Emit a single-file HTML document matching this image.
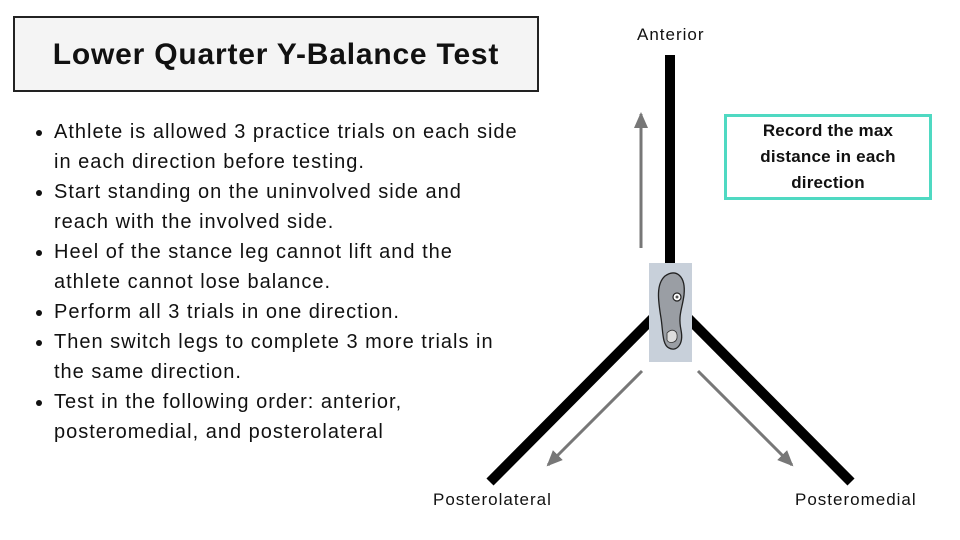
<!DOCTYPE html>
<html><head><meta charset="utf-8"><style>
body{margin:0;width:960px;height:540px;background:#fff;position:relative;overflow:hidden;font-family:"Liberation Sans",sans-serif;color:#111}
.title{position:absolute;left:13px;top:16px;width:522px;height:72px;border:2px solid #222;background:#f4f4f4;font-weight:bold;font-size:30px;letter-spacing:.8px;text-align:center;line-height:74px}
ul{position:absolute;left:32px;top:117px;margin:0;padding:0 0 0 22px;width:520px;font-size:20px;line-height:30px;letter-spacing:1px;white-space:nowrap}
.lbl{position:absolute;font-size:17px;letter-spacing:1px}
.rec{position:absolute;left:724px;top:114px;width:202px;height:80px;border:3px solid #4fd9c2;font-weight:bold;font-size:17px;letter-spacing:.2px;text-align:center;line-height:26px;display:flex;align-items:center;justify-content:center}
</style></head><body>
<div class="title">Lower Quarter Y-Balance Test</div>
<ul>
<li>Athlete is allowed 3 practice trials on each side<br>in each direction before testing.</li>
<li>Start standing on the uninvolved side and<br>reach with the involved side.</li>
<li>Heel of the stance leg cannot lift and the<br>athlete cannot lose balance.</li>
<li>Perform all 3 trials in one direction.</li>
<li>Then switch legs to complete 3 more trials in<br>the same direction.</li>
<li>Test in the following order: anterior,<br>posteromedial, and posterolateral</li>
</ul>
<svg width="960" height="540" style="position:absolute;left:0;top:0">
<defs><marker id="b" markerWidth="16" markerHeight="16" refX="14" refY="8" orient="auto" markerUnits="userSpaceOnUse"><path d="M0,1L16,8L0,15z" fill="#777"/></marker></defs>
<line x1="670" y1="55" x2="670" y2="265" stroke="#000" stroke-width="10"/>
<line x1="655" y1="316" x2="490" y2="482" stroke="#000" stroke-width="10"/>
<line x1="686" y1="316" x2="851" y2="482" stroke="#000" stroke-width="10"/>
<line x1="641" y1="248" x2="641" y2="114" stroke="#777" stroke-width="3" marker-end="url(#b)"/>
<line x1="642" y1="371" x2="548" y2="465" stroke="#777" stroke-width="3" marker-end="url(#b)"/>
<line x1="698" y1="371" x2="792" y2="465" stroke="#777" stroke-width="3" marker-end="url(#b)"/>
<rect x="649" y="263" width="43" height="99" fill="#c8d0da"/>
<path d="M665,276 C676,268 686,276 684,295 C682,310 678,315 681,330 C684,345 676,352 669,348 C662,345 663,330 661,318 C658,300 656,284 665,276z" fill="#9a9ea4" stroke="#222" stroke-width="1.3"/>
<circle cx="677" cy="297" r="4" fill="#fff" stroke="#222" stroke-width="1.2"/>
<circle cx="677" cy="297" r="1.5" fill="#555"/>
<path d="M667,333 C672,328 678,330 677,338 C676,343 669,344 667,340z" fill="#ddd" stroke="#333" stroke-width=".8"/>
</svg>
<div class="lbl" style="left:637px;top:25px">Anterior</div>
<div class="lbl" style="left:433px;top:490px">Posterolateral</div>
<div class="lbl" style="left:795px;top:490px">Posteromedial</div>
<div class="rec">Record the max<br>distance in each<br>direction</div>
</body></html>
